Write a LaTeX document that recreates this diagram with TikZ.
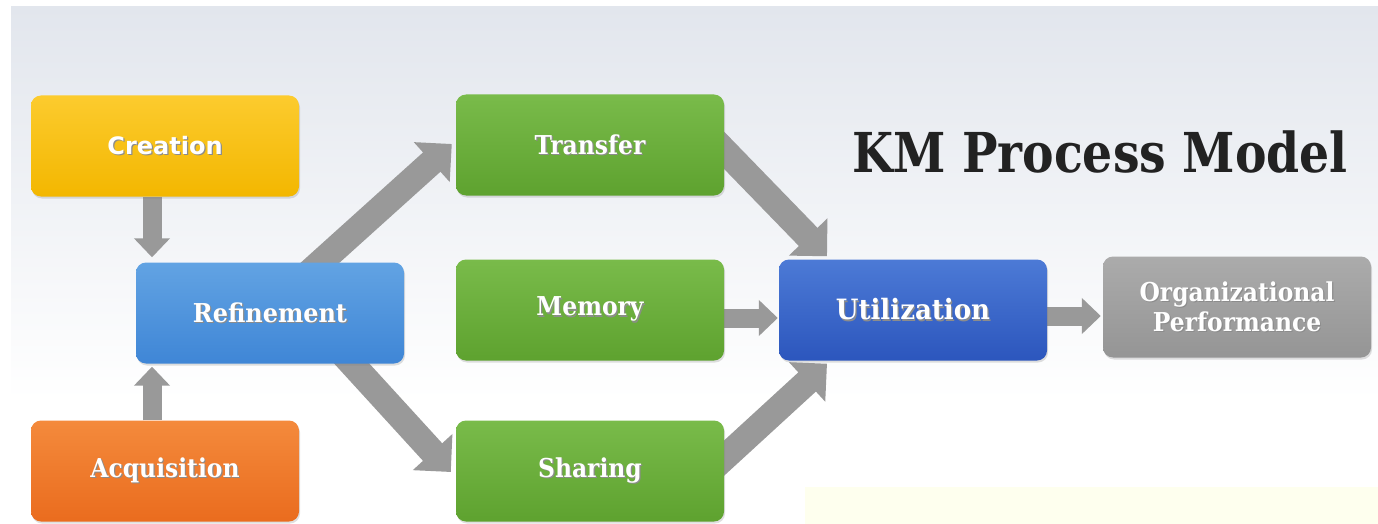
\documentclass[tikz,border=0pt]{standalone}
\usepackage{graphicx}
\usepackage{fontspec}
\setmainfont{DejaVu Serif}
\newfontfamily\labelsans{DejaVu Sans}
\usetikzlibrary{arrows.meta,shadows,calc}
\pgfdeclarelayer{backdrop}
\pgfdeclarelayer{links}
\pgfsetlayers{backdrop,links,main}

\definecolor{bgtop}{HTML}{E2E6ED}
\definecolor{arrowgray}{HTML}{999999}
\definecolor{titleink}{HTML}{222222}
\definecolor{paleyellow}{HTML}{FEFFEE}
\definecolor{creTop}{HTML}{FCCB2E}\definecolor{creBot}{HTML}{F3B700}
\definecolor{refTop}{HTML}{62A3E3}\definecolor{refBot}{HTML}{3F86D6}
\definecolor{acqTop}{HTML}{F48A3C}\definecolor{acqBot}{HTML}{EA6C1E}
\definecolor{grnTop}{HTML}{79BB4A}\definecolor{grnBot}{HTML}{5EA22F}
\definecolor{utiTop}{HTML}{4C7AD6}\definecolor{utiBot}{HTML}{2C56BD}
\definecolor{orgTop}{HTML}{ABABAB}\definecolor{orgBot}{HTML}{959595}

% white label, slightly condensed, with a soft dark offset behind it
\newcommand\liftedtext[2][0.9]{\scalebox{#1}[1]{\leavevmode\rlap{\kern1.3pt\raisebox{-1.3pt}{\textcolor{black!45}{#2}}}#2}}

\tikzset{
  stage/.style={rounded corners=10pt, minimum width=268pt, minimum height=101pt,
    inner sep=0pt, text=white, font=\bfseries\fontsize{26}{31}\selectfont,
    drop shadow={shadow xshift=1pt, shadow yshift=-2pt, opacity=0.25}},
  shadestage/.style 2 args={stage, top color=#1, bottom color=#2},
  flowline/.style={draw=arrowgray, line width=26pt,
    -{Triangle[length=27pt,width=52pt]}},
  stepline/.style={draw=arrowgray, line width=19pt,
    -{Triangle[length=19pt,width=35pt]}},
}

\begin{document}
\begin{tikzpicture}[x=1pt,y=-1pt]
\useasboundingbox (0,0) rectangle (1378,524);

\begin{pgfonlayer}{backdrop}
  \fill[white] (0,0) rectangle (1378,524);
  \shade[top color=bgtop, bottom color=white] (11,7) rectangle (1378,400);
  \fill[white] (11,400) rectangle (1378,524);
  \fill[paleyellow] (805,487) rectangle (1378,524);
\end{pgfonlayer}

% process stages
\node[shadestage={creTop}{creBot}, font=\labelsans\bfseries\fontsize{24}{28}\selectfont]
  (cre) at (165,146) {\liftedtext[1]{Creation}};
\node[shadestage={refTop}{refBot}] (ref) at (270,313) {\liftedtext[0.92]{Refinement}};
\node[shadestage={acqTop}{acqBot}] (acq) at (165,471) {\liftedtext{Acquisition}};
\node[shadestage={grnTop}{grnBot}] (tra) at (590,145) {\liftedtext{Transfer}};
\node[shadestage={grnTop}{grnBot}] (mem) at (590,310) {\liftedtext{Memory}};
\node[shadestage={grnTop}{grnBot}] (sha) at (590,471) {\liftedtext{Sharing}};
\node[shadestage={utiTop}{utiBot}, font=\bfseries\fontsize{28}{33}\selectfont]
  (uti) at (913,310) {\liftedtext[0.93]{Utilization}};
\node[shadestage={orgTop}{orgBot}, align=center] (org) at (1237,307)
  {\liftedtext{Organizational}\\[-1pt]\liftedtext{Performance}};

\node[text=titleink, font=\bfseries\fontsize{55}{64}\selectfont] (title) at (1100,152)
  {\scalebox{0.86}[1]{KM Process Model}};

% connectors
\begin{pgfonlayer}{links}
  \draw[stepline] ([xshift=-13pt]cre.south) -- ([xshift=-13pt,yshift=5pt]cre.south |- ref.north);
  \draw[stepline] ([xshift=-13pt]acq.north) -- ([xshift=-13pt,yshift=-3pt]acq.north |- ref.south);
  \draw[flowline] ([xshift=35pt,yshift=-14pt]ref.north) -- ([xshift=-4pt,yshift=1pt]tra.west);
  \draw[flowline] ([xshift=70pt,yshift=13pt]ref.south) -- ([xshift=-5pt,yshift=-1pt]sha.west);
  \draw[flowline] ([xshift=-14pt,yshift=9pt]tra.east) -- ([xshift=-86pt,yshift=3pt]uti.north);
  \draw[flowline] ([xshift=-12pt,yshift=2pt]sha.east) -- ([xshift=-86pt,yshift=-3pt]uti.south);
  \draw[stepline] ([xshift=-5pt,yshift=-8pt]mem.east) -- ([xshift=-1pt,yshift=-8pt]mem.east -| uti.west);
  \draw[stepline] ([xshift=-5pt,yshift=-6pt]uti.east) -- ([xshift=-2pt,yshift=-6pt]uti.east -| org.west);
\end{pgfonlayer}
\end{tikzpicture}
\end{document}
